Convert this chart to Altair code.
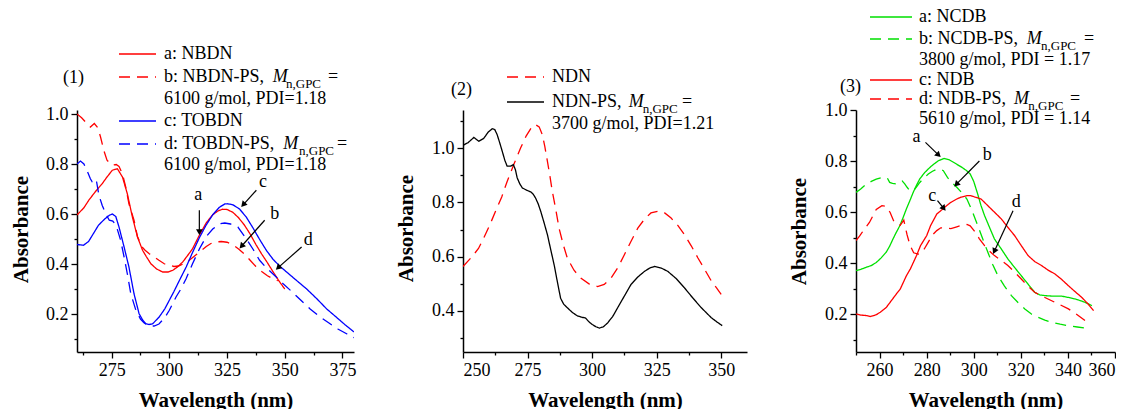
import math
import altair as alt
import pandas as pd

FONT = "Liberation Serif"

# ---------------- Panel (1) data ----------------
p1_a_x = [260, 263, 265.1, 268, 270.9, 273, 275.3, 277.5, 279.7, 281.8, 284, 286.2, 288.4, 290, 292, 294.5, 297.1, 299.5, 301.5, 303.5,
          305.8, 308, 310, 313, 316, 318.8, 321, 323, 325, 327.5, 330, 332.5, 335, 337.5, 340, 342.5, 345, 347.5, 350]
p1_a_y = [0.596, 0.625, 0.655, 0.69, 0.721, 0.748, 0.775, 0.781, 0.748, 0.681, 0.588, 0.508, 0.455, 0.43, 0.401, 0.38, 0.368, 0.368, 0.375, 0.388,
          0.408, 0.435, 0.46, 0.515, 0.565, 0.597, 0.612, 0.619, 0.618, 0.607, 0.585, 0.556, 0.52, 0.478, 0.44, 0.405, 0.368, 0.332, 0.30]
p1_b_x = [260, 262, 264, 265.8, 267.5, 269, 270.2, 271.6, 273, 275.3, 277, 278.2, 279.7, 281.1, 282.5, 284.7, 286.2, 288, 289.5, 291.3,
          293.5, 295.5, 297.8, 300, 302, 304, 306, 308, 310, 312, 314, 316, 318, 320, 322.5, 325, 327.5, 330, 332.5, 335,
          337.5, 340, 342.5, 345, 347]
p1_b_y = [1.0, 0.985, 0.965, 0.948, 0.962, 0.945, 0.908, 0.855, 0.815, 0.795, 0.798, 0.79, 0.76, 0.708, 0.641, 0.575, 0.51, 0.47, 0.455, 0.441,
          0.428, 0.415, 0.401, 0.395, 0.39, 0.392, 0.40, 0.41, 0.425, 0.44, 0.455, 0.47, 0.482, 0.488, 0.49, 0.487, 0.477, 0.46, 0.44, 0.415,
          0.39, 0.37, 0.353, 0.34, 0.333]
p1_c_x = [260, 262.8, 265, 267, 269.3, 272, 274, 275.3, 276.8, 278.2, 280.4, 282.5, 284.7, 286.9, 288.5, 289.8, 291.3, 292.8, 295.6, 298,
          300, 302, 304.4, 307.3, 310, 313, 315.9, 318.8, 321.7, 324, 325.3, 327.5, 330.4, 333.3, 336.2, 339, 342, 345, 348, 350.8,
          355, 359.5, 364, 368.2, 372, 376, 380]
p1_c_y = [0.478, 0.475, 0.49, 0.52, 0.555, 0.58, 0.595, 0.60, 0.59, 0.548, 0.468, 0.388, 0.281, 0.201, 0.175, 0.161, 0.158, 0.161, 0.188, 0.22,
          0.255, 0.29, 0.335, 0.388, 0.445, 0.505, 0.555, 0.597, 0.627, 0.64, 0.641, 0.637, 0.62, 0.588, 0.545, 0.5, 0.455, 0.418, 0.39, 0.368,
          0.335, 0.30, 0.26, 0.22, 0.19, 0.158, 0.128]
p1_d_x = [260, 261.5, 263, 264.5, 265.8, 266.5, 267.3, 268.5, 269.5, 270.9, 272.5, 274, 275.5, 277, 278.9, 280.4, 281.8, 283.3, 285.5, 287.5,
          289, 290.5, 292, 293.4, 295.5, 298, 300, 302.9, 305, 307.2, 310, 313, 316, 318.8, 321.7, 324, 326.5, 329.7, 333.3, 336.2,
          339.1, 342, 345.5, 349.3, 353, 357, 361, 365, 369, 373, 377, 380]
p1_d_y = [0.80, 0.812, 0.80, 0.77, 0.741, 0.73, 0.742, 0.728, 0.675, 0.635, 0.60, 0.575, 0.572, 0.553, 0.495, 0.428, 0.361, 0.281, 0.215, 0.18,
          0.165, 0.155, 0.152, 0.152, 0.16, 0.185, 0.215, 0.268, 0.30, 0.34, 0.40, 0.46, 0.51, 0.54, 0.561, 0.564, 0.56, 0.548, 0.501, 0.46,
          0.415, 0.385, 0.355, 0.321, 0.29, 0.255, 0.22, 0.19, 0.165, 0.14, 0.12, 0.105]

# ---------------- Panel (2) data ----------------
p2_ndn_x = [250, 253.5, 256, 258, 260.3, 262.6, 265, 267.1, 269.7, 272.3, 274.5, 276.8, 278.1, 279.5, 280.7, 281.7, 282.7, 283.7, 284.6, 286,
            287.2, 288.8, 290.4, 293, 295.6, 298.8, 302.1, 304.7, 307.3, 310, 312.5, 315, 317.7, 320.3, 322.8, 325.4, 328, 330.6, 333.2, 335.8,
            338.4, 341, 343.6, 346.2, 348.2, 350]
p2_ndn_y = [0.564, 0.60, 0.63, 0.668, 0.715, 0.767, 0.82, 0.877, 0.94, 1.0, 1.045, 1.08, 1.086, 1.078, 1.05, 1.005, 0.951, 0.895, 0.84, 0.77,
            0.705, 0.645, 0.595, 0.55, 0.521, 0.5, 0.49, 0.498, 0.521, 0.56, 0.607, 0.655, 0.705, 0.738, 0.761, 0.767, 0.762, 0.742, 0.715, 0.681,
            0.64, 0.595, 0.553, 0.51, 0.485, 0.461]
p2_ps_x = [250, 252, 254.2, 256.1, 258, 259.7, 261.3, 262.3, 263.2, 264.2, 265.2, 266.2, 267.1, 268.4, 269.5, 270.3, 271, 272, 273, 274.6,
           276.3, 277.2, 278.1, 279.1, 280.1, 281.4, 282.7, 284, 285.3, 286.6, 287.8, 289, 290.4, 292.3, 294.3, 296, 297.5, 298.8, 300.1, 301.5,
           302.8, 304.4, 306, 308, 309.9, 312.5, 315.1, 317.7, 320.3, 322.3, 324.2, 326.8, 329.3, 332.5, 335.8, 339, 342.3, 344.3, 346.2, 348.3,
           350.4]
p2_ps_y = [1.01, 1.02, 1.039, 1.025, 1.035, 1.058, 1.071, 1.068, 1.05, 1.02, 0.988, 0.955, 0.933, 0.933, 0.939, 0.92, 0.89, 0.868, 0.853, 0.845,
           0.838, 0.83, 0.816, 0.795, 0.767, 0.725, 0.681, 0.625, 0.57, 0.505, 0.447, 0.425, 0.412, 0.395, 0.382, 0.377, 0.374, 0.36, 0.35, 0.342,
           0.337, 0.342, 0.356, 0.38, 0.412, 0.455, 0.498, 0.525, 0.546, 0.558, 0.564, 0.558, 0.546, 0.52, 0.485, 0.448, 0.412, 0.393, 0.375, 0.36,
           0.346]

# ---------------- Panel (3) data ----------------
p3_a_x = [250, 252, 254.3, 256.5, 258.6, 260.7, 262.8, 264.3, 265.7, 267.1, 268.6, 270, 271.4, 272.9, 274.3, 275.7, 277.1, 279.2, 281.4, 283.1,
          285, 287.4, 289.5, 291.4, 293.2, 295, 297, 298.5, 300, 301.7, 303.1, 304.6, 306.7, 308.8, 311.7, 314.5, 317.4, 320.2, 323, 325.9,
          328, 330.2, 333.8, 337.4, 340.2, 343.1, 346.7, 350.2]
p3_a_y = [0.37, 0.375, 0.383, 0.39, 0.402, 0.42, 0.442, 0.466, 0.494, 0.52, 0.546, 0.578, 0.612, 0.645, 0.677, 0.705, 0.73, 0.755, 0.775, 0.788,
          0.801, 0.81, 0.805, 0.795, 0.785, 0.775, 0.762, 0.749, 0.72, 0.67, 0.625, 0.586, 0.54, 0.494, 0.455, 0.416, 0.382, 0.35, 0.318, 0.285,
          0.275, 0.272, 0.27, 0.27, 0.265, 0.259, 0.248, 0.233]
p3_b_x = [250, 252, 254.3, 256.5, 258.6, 260.5, 262.1, 263.3, 264.3, 265.5, 267, 268.5, 269.6, 270.7, 271.7, 272.8, 274.5, 275.8, 277.1, 278.9,
          280.7, 282.5, 284.3, 285.7, 287.1, 288.9, 290.8, 292.8, 295, 297.1, 299.3, 301.7, 304, 306, 308, 310.3, 313, 316, 318.8, 321.7,
          324.5, 327.4, 330.2, 333.1, 336.7, 340.2, 344, 348.1]
p3_b_y = [0.677, 0.69, 0.709, 0.72, 0.729, 0.734, 0.736, 0.733, 0.716, 0.712, 0.71, 0.72, 0.722, 0.71, 0.697, 0.684, 0.684, 0.70, 0.716, 0.733,
          0.749, 0.76, 0.768, 0.767, 0.762, 0.735, 0.715, 0.697, 0.675, 0.651, 0.605, 0.547, 0.49, 0.442, 0.395, 0.35, 0.31, 0.272, 0.245, 0.22,
          0.2, 0.187, 0.176, 0.167, 0.16, 0.154, 0.149, 0.144]
p3_c_x = [250, 252, 254.3, 256, 258.6, 260.3, 262.8, 264.5, 267.1, 268.8, 271.4, 273.1, 275.7, 277.4, 280, 281.7, 284.3, 286, 288.5, 290.3,
          292.8, 294.6, 297.1, 298.8, 300.7, 303.1, 305.2, 307.4, 309.5, 311.7, 314.5, 317.4, 320.2, 323.1, 326, 328.8, 331.6, 334.5, 337.4, 340.2,
          343, 345.9, 348.5, 350.9]
p3_c_y = [0.20, 0.196, 0.194, 0.19, 0.197, 0.207, 0.225, 0.246, 0.278, 0.298, 0.35, 0.377, 0.429, 0.468, 0.507, 0.547, 0.592, 0.605, 0.625, 0.638,
          0.651, 0.658, 0.664, 0.664, 0.658, 0.651, 0.632, 0.612, 0.593, 0.573, 0.54, 0.507, 0.468, 0.429, 0.405, 0.39, 0.372, 0.357, 0.335, 0.311,
          0.288, 0.265, 0.24, 0.213]
p3_d_x = [250, 251.5, 253.1, 255.7, 258.6, 261, 262.8, 264.5, 266, 267, 268.8, 270.3, 271.7, 273, 274.5, 276.4, 277.5, 279, 280.7, 282.5,
          284.3, 286, 288.5, 290.3, 292.8, 294.6, 297.1, 298.5, 300.3, 302.4, 304.6, 306.7, 308.8, 311.7, 314.5, 317.4, 320.2, 323, 325.9, 329.5,
          333.1, 336.7, 340.2, 343.8, 347.3]
p3_d_y = [0.488, 0.505, 0.527, 0.559, 0.61, 0.625, 0.622, 0.598, 0.565, 0.553, 0.548, 0.568, 0.51, 0.468, 0.44, 0.435, 0.438, 0.455, 0.482, 0.51,
          0.527, 0.538, 0.536, 0.535, 0.542, 0.547, 0.551, 0.546, 0.525, 0.495, 0.468, 0.447, 0.429, 0.41, 0.39, 0.364, 0.337, 0.31, 0.285, 0.268,
          0.252, 0.236, 0.22, 0.198, 0.174]

# arrow annotations (data coords): label, label_x, label_y, tail_x, tail_y, head_x, head_y
p1_arrows = [("a", 312.5, 0.676, 313.0, 0.615, 313.0, 0.515),
             ("c", 340.6, 0.728, 337.7, 0.695, 331.1, 0.628),
             ("b", 345.7, 0.600, 341.3, 0.575, 330.4, 0.462),
             ("d", 360.2, 0.495, 357.3, 0.468, 346.1, 0.377)]
p3_arrows = [("a", 275.7, 0.893, 279.5, 0.873, 286.0, 0.815),
             ("b", 305.7, 0.825, 302.4, 0.800, 291.7, 0.700),
             ("c", 282.4, 0.664, 284.6, 0.645, 288.1, 0.605),
             ("d", 318.1, 0.638, 316.7, 0.605, 308.2, 0.435)]

RED, BLUE, GREEN, BLACK = "#ff0000", "#0000ff", "#00e000", "#000000"
SOLID, DASH = [1, 0], [11, 7]


def curves_df(series):
    rows = []
    for name, xs, ys in series:
        for i, (x, y) in enumerate(zip(xs, ys)):
            rows.append({"wl": x, "ab": y, "series": name, "o": i})
    return pd.DataFrame(rows)


def make_axis(values, mod10, title, fmt, is_x, tx=None, ty=None):
    test = f"round(datum.value*10) % {mod10} == 0"
    kw = dict(values=values, format=fmt, title=title,
              labelExpr=f"{test} ? datum.label : ''",
              tickSize={"condition": {"test": test, "value": 6}, "value": 3},
              labelPadding=3, domainWidth=1.5, tickWidth=1.3,
              titleBaseline="alphabetic")
    if is_x:
        kw.update(titleY=ty)
    else:
        kw.update(titleX=tx, titleY=ty)
    return alt.Axis(**kw)


def panel(series, names, colors, dashes, xdom, ydom, xvals, xmod, yvals, ymod, width, height,
          ytitle_pos, arrows, leg_lines, leg_norm, leg_ital, leg_sub, left_anchor=False):
    df = curves_df(series)
    xs = alt.Scale(domain=xdom, nice=False, zero=False)
    ys = alt.Scale(domain=ydom, nice=False, zero=False)
    xa = make_axis(xvals, xmod, "Wavelength (nm)", "d", True, ty=54)
    ya = make_axis(yvals, ymod, "Absorbance", ".1f", False, tx=ytitle_pos[0], ty=ytitle_pos[1])
    cs = alt.Scale(domain=names, range=colors)
    ds = alt.Scale(domain=names, range=dashes)
    lines = alt.Chart(df).mark_line(strokeWidth=1.3, clip=True).encode(
        x=alt.X("wl:Q", scale=xs, axis=xa),
        y=alt.Y("ab:Q", scale=ys, axis=ya),
        color=alt.Color("series:N", scale=cs, legend=None),
        strokeDash=alt.StrokeDash("series:N", scale=ds, legend=None),
        order="o:Q",
    )
    layers = [lines]

    if arrows:
        kx = width / (xdom[1] - xdom[0])
        ky = height / (ydom[1] - ydom[0])
        arows = []
        for lab, lx, ly, x1, y1, x2, y2 in arrows:
            dxp = (x2 - x1) * kx
            dyp = -(y2 - y1) * ky
            n = math.hypot(dxp, dyp)
            ux, uy = dxp / n, dyp / n
            ang = math.degrees(math.atan2(dxp, -dyp)) % 360
            cx = x2 - 4 * ux / kx
            cy = y2 + 4 * uy / ky
            arows.append({"lab": lab, "lx": lx, "ly": ly, "wl": x1, "ab": y1, "cx": cx, "cy": cy, "ang": ang})
        adf = pd.DataFrame(arows)
        layers.append(alt.Chart(adf).mark_rule(color="black", strokeWidth=1.2).encode(
            x=alt.X("wl:Q", scale=xs, axis=xa), y=alt.Y("ab:Q", scale=ys, axis=ya), x2="cx:Q", y2="cy:Q"))
        layers.append(alt.Chart(adf).mark_point(shape="triangle", filled=True, color="black", size=45, opacity=1).encode(
            x=alt.X("cx:Q", scale=xs, axis=xa), y=alt.Y("cy:Q", scale=ys, axis=ya),
            angle=alt.Angle("ang:Q", scale=None)))
        layers.append(alt.Chart(adf).mark_text(font=FONT, fontSize=18, color="black", baseline="middle").encode(
            x=alt.X("lx:Q", scale=xs, axis=xa), y=alt.Y("ly:Q", scale=ys, axis=ya), text="lab:N"))

    # legend (positions relative to plot area)
    ldf = pd.DataFrame([{"lx": a, "lx2": b, "ly": y, "series": s} for a, b, y, s in leg_lines])
    layers.append(alt.Chart(ldf).mark_rule(strokeWidth=1.3).encode(
        x=alt.X("lx:Q", scale=None, axis=None), x2="lx2:Q",
        y=alt.Y("ly:Q", scale=None, axis=None),
        color=alt.Color("series:N", scale=cs, legend=None),
        strokeDash=alt.StrokeDash("series:N", scale=ds, legend=None)))
    for items, style, size in [(leg_norm, "normal", 18), (leg_ital, "italic", 18), (leg_sub, "normal", 13)]:
        tdf = pd.DataFrame([{"tx": x, "ty": y, "t": t} for x, y, t in items])
        layers.append(alt.Chart(tdf).mark_text(font=FONT, fontSize=size, fontStyle=style, align="left",
                                               baseline="middle", color="black").encode(
            x=alt.X("tx:Q", scale=None, axis=None), y=alt.Y("ty:Q", scale=None, axis=None), text="t:N"))

    if left_anchor:
        layers.append(alt.Chart(pd.DataFrame({"ax": [-69], "ax2": [-68], "ay": [120]})).mark_rule(opacity=0).encode(
            x=alt.X("ax:Q", scale=None, axis=None), x2="ax2:Q", y=alt.Y("ay:Q", scale=None, axis=None)))

    return alt.layer(*layers).properties(width=width, height=height)


HEIGHT = 242

# Panel 1
p1 = panel(
    [("1a", p1_a_x, p1_a_y), ("1b", p1_b_x, p1_b_y), ("1c", p1_c_x, p1_c_y), ("1d", p1_d_x, p1_d_y)],
    ["1a", "1b", "1c", "1d"], [RED, RED, BLUE, BLUE], [SOLID, DASH, SOLID, DASH],
    [260, 380], [0.048, 1.016],
    [262.5, 275, 287.5, 300, 312.5, 325, 337.5, 350, 362.5, 375], 250,
    [0.1, 0.2, 0.3, 0.4, 0.5, 0.6, 0.7, 0.8, 0.9, 1.0], 2,
    277, HEIGHT, (-50, 119), p1_arrows,
    [(42, 79, -56, "1a"), (42, 79, -33, "1b"), (42, 79, 11, "1c"), (42, 79, 34, "1d")],
    [(87, -56, "a: NBDN"), (87, -33, "b: NBDN-PS,"), (87, -11, "6100 g/mol, PDI=1.18"),
     (87, 11, "c: TOBDN"), (87, 34, "d: TOBDN-PS,"), (87, 55, "6100 g/mol, PDI=1.18"),
     (-14, -32, "(1)"), (251, -33, "="), (260, 34, "=")],
    [(195.7, -33, "M"), (206.3, 34, "M")],
    [(209, -26, "n,GPC"), (222, 41, "n,GPC")],
    left_anchor=True)

# Panel 2
p2 = panel(
    [("2NDN", p2_ndn_x, p2_ndn_y), ("2NDN-PS", p2_ps_x, p2_ps_y)],
    ["2NDN", "2NDN-PS"], [RED, BLACK], [DASH, SOLID],
    [250, 360], [0.249, 1.14],
    [250, 262.5, 275, 287.5, 300, 312.5, 325, 337.5, 350], 250,
    [0.3, 0.4, 0.5, 0.6, 0.7, 0.8, 0.9, 1.0, 1.1], 2,
    284, HEIGHT, (-51, 118), [],
    [(44, 81, -33, "2NDN"), (44, 81, -8, "2NDN-PS")],
    [(89, -33, "NDN"), (89, -8, "NDN-PS,"), (89, 14, "3700 g/mol, PDI=1.21"), (-12, -20, "(2)"), (219, -8, "=")],
    [(165.7, -8, "M")],
    [(179.7, -1, "n,GPC")])

# Panel 3
p3 = panel(
    [("3a", p3_a_x, p3_a_y), ("3b", p3_b_x, p3_b_y), ("3c", p3_c_x, p3_c_y), ("3d", p3_d_x, p3_d_y)],
    ["3a", "3b", "3c", "3d"], [GREEN, GREEN, RED, RED], [SOLID, DASH, SOLID, DASH],
    [250, 360], [0.051, 1.0],
    [250, 260, 270, 280, 290, 300, 310, 320, 330, 340, 350, 360], 200,
    [0.1, 0.2, 0.3, 0.4, 0.5, 0.6, 0.7, 0.8, 0.9, 1.0], 2,
    259, HEIGHT, (-51, 121), p3_arrows,
    [(14, 56, -93, "3a"), (14, 56, -71, "3b"), (14, 56, -30, "3c"), (14, 56, -11, "3d")],
    [(63, -93, "a: NCDB"), (63, -71, "b: NCDB-PS,"), (63, -50, "3800 g/mol, PDI = 1.17"),
     (63, -30, "c: NDB"), (63, -11, "d: NDB-PS,"), (63, 9, "5610 g/mol, PDI = 1.14"),
     (-16, -23, "(3)"), (228, -71, "="), (214, -11, "=")],
    [(170.7, -71, "M"), (158, -11, "M")],
    [(185, -64, "n,GPC"), (172.3, -4, "n,GPC")])

chart = alt.hconcat(p1, p2, p3, spacing=109, bounds="flush").resolve_scale(
    color="independent", strokeDash="independent").properties(padding=0).configure_view(
    stroke=None).configure_axis(
    labelFont=FONT, labelFontSize=18, labelColor="black", titleFont=FONT, titleFontSize=21,
    titleFontWeight="bold", titleColor="black", domainColor="black", tickColor="black", grid=False)

chart.save("out.html", embed_options={"renderer": "svg", "actions": False})
